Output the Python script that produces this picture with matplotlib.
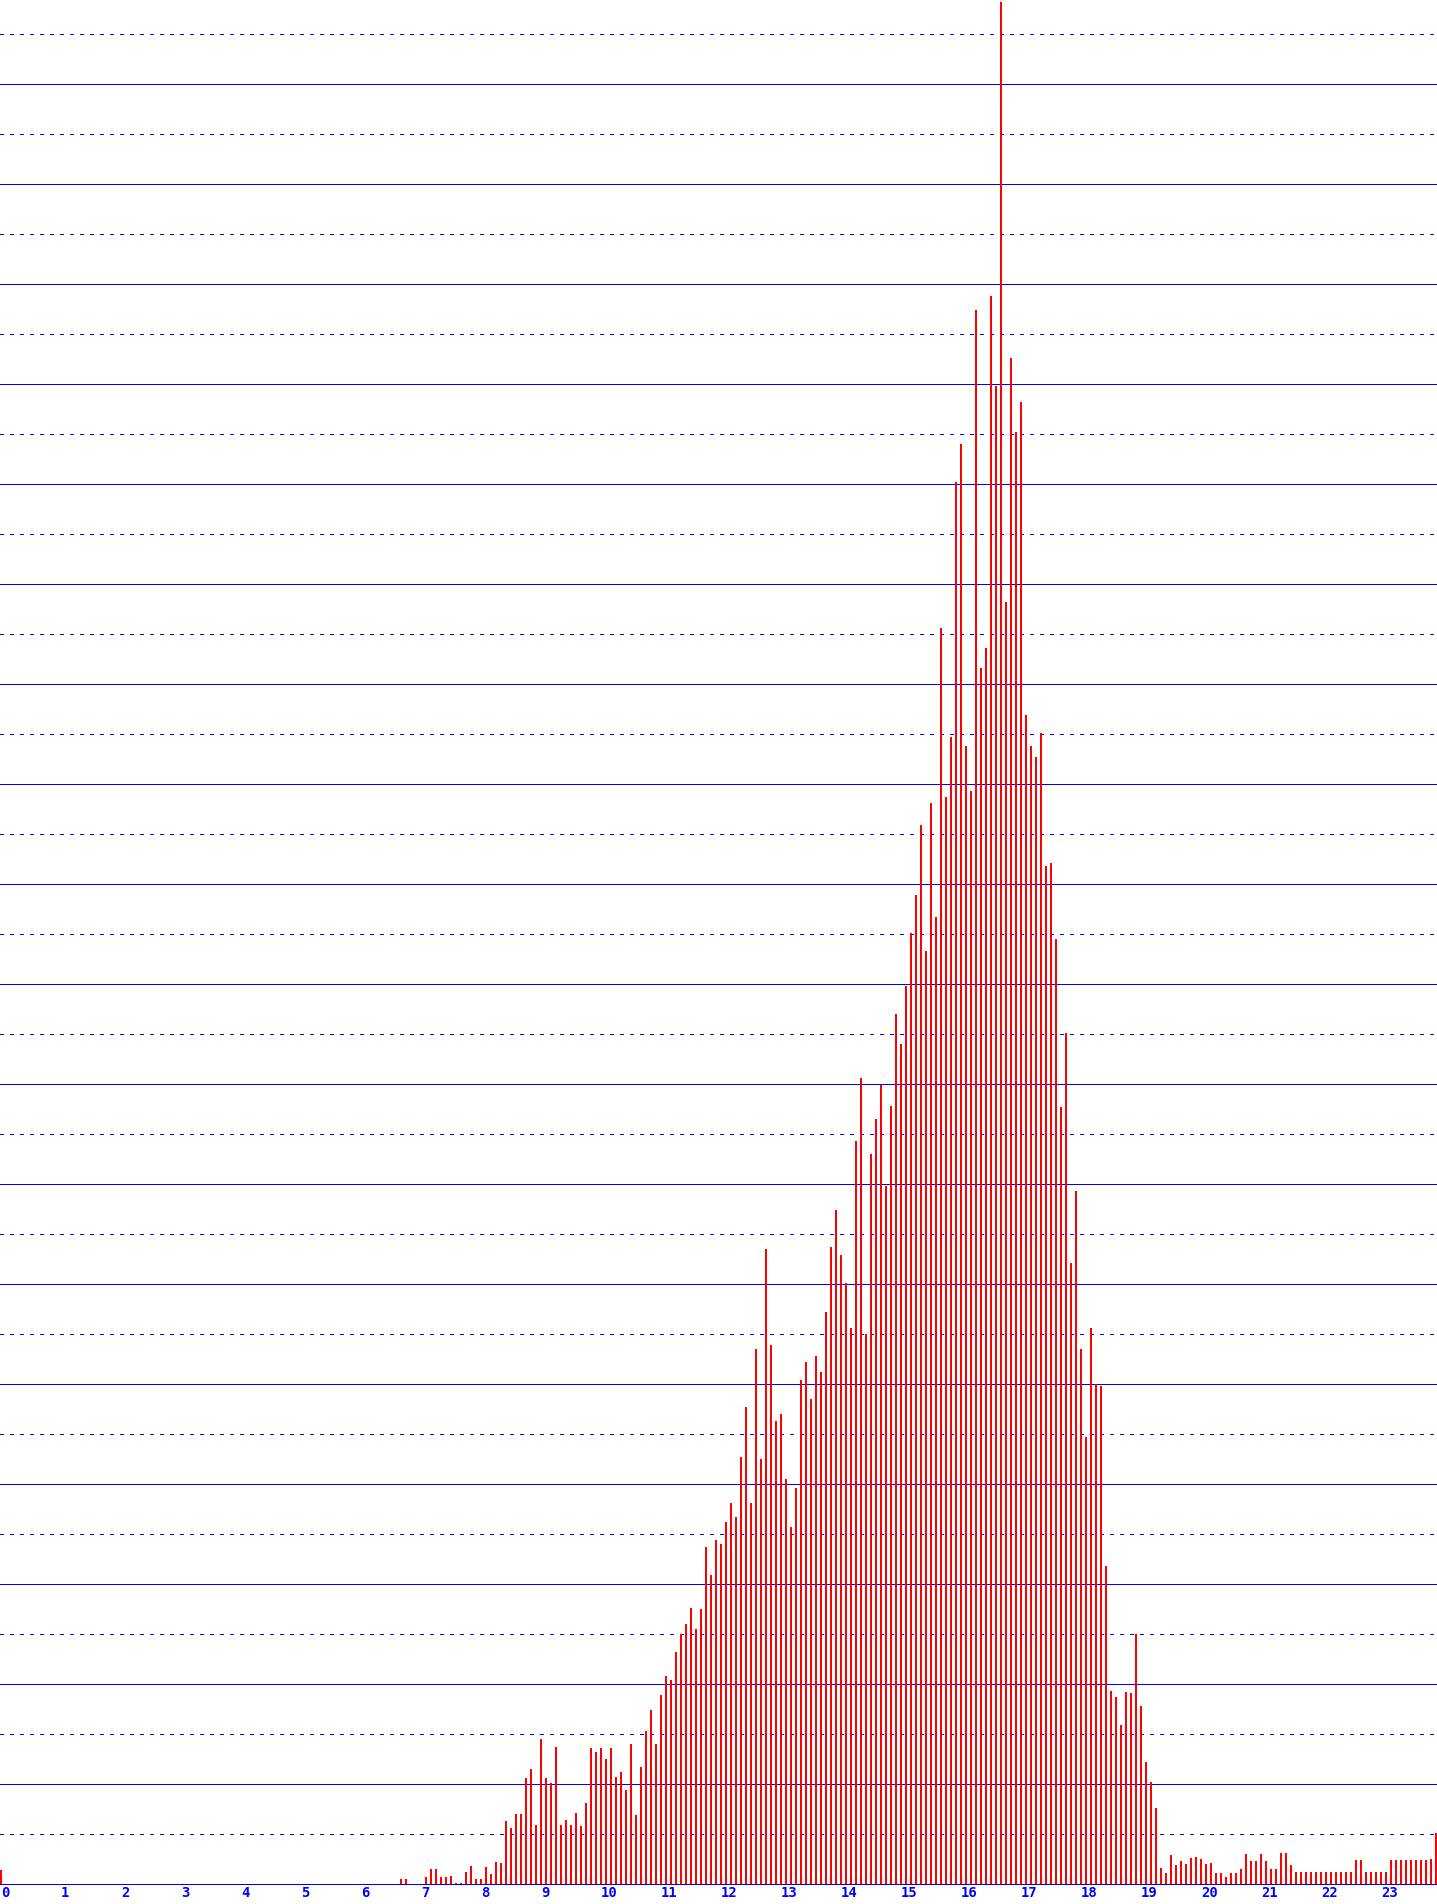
import matplotlib
matplotlib.use("Agg")
from matplotlib import pyplot as plt
import numpy as np

plt.rcParams['lines.scale_dashes'] = False

# values every 5 minutes, one list per hour (grid: solid every 100, dotted every 50)
h00 = [14, 0, 0, 0, 0, 0, 0, 0, 0, 0, 0, 0]
h01 = [0, 0, 0, 0, 0, 0, 0, 0, 0, 0, 0, 0]
h02 = [0, 0, 0, 0, 0, 0, 0, 0, 0, 0, 0, 0]
h03 = [0, 0, 0, 0, 0, 0, 0, 0, 0, 0, 0, 0]
h04 = [0, 0, 0, 0, 0, 0, 0, 0, 0, 0, 0, 0]
h05 = [0, 0, 0, 0, 0, 0, 0, 0, 0, 0, 0, 0]
h06 = [0, 0, 0, 0, 0, 0, 0, 0, 5, 5, 0, 0]
h07 = [0, 7, 15, 15, 7, 7, 8, 1, 1, 12, 18, 5]
h08 = [5, 17, 10, 22, 21, 63, 56, 70, 70, 106, 115, 59]
h09 = [145, 106, 101, 137, 59, 64, 59, 71, 58, 81, 136, 132]
h10 = [136, 125, 136, 107, 112, 94, 140, 69, 117, 153, 174, 140]
h11 = [189, 208, 204, 232, 250, 260, 276, 255, 275, 337, 309, 344]
h12 = [340, 362, 381, 367, 427, 477, 381, 535, 425, 635, 539, 463]
h13 = [470, 405, 357, 396, 504, 522, 485, 528, 512, 572, 637, 674]
h14 = [629, 601, 556, 743, 806, 550, 730, 765, 799, 698, 778, 870]
h15 = [840, 898, 951, 989, 1059, 933, 1081, 967, 1256, 1087, 1147, 1402]
h16 = [1440, 1138, 1093, 1574, 1216, 1236, 1588, 1498, 1882, 1282, 1526, 1452]
h17 = [1482, 1169, 1138, 1127, 1151, 1018, 1021, 945, 777, 851, 621, 693]
h18 = [535, 447, 556, 500, 498, 318, 193, 187, 159, 192, 191, 250]
h19 = [178, 122, 102, 76, 16, 11, 29, 19, 23, 20, 26, 27]
h20 = [25, 20, 21, 11, 11, 7, 11, 11, 15, 30, 23, 23]
h21 = [30, 23, 15, 15, 31, 31, 19, 12, 12, 12, 12, 12]
h22 = [12, 12, 12, 12, 12, 12, 12, 24, 24, 12, 12, 12]
h23 = [12, 12, 24, 24, 24, 24, 24, 24, 24, 24, 25, 51]

hours = list(range(24))
hour_labels = [str(h) for h in hours]

values = np.array(h00 + h01 + h02 + h03 + h04 + h05 + h06 + h07 + h08 + h09 + h10 + h11
                  + h12 + h13 + h14 + h15 + h16 + h17 + h18 + h19 + h20 + h21 + h22 + h23)
minutes = np.arange(len(values)) * 5

W, H = 1437, 1904
fig = plt.figure(figsize=(W / 100, H / 100), dpi=100)
ax = fig.add_axes([0, 20 / H, 1, 1 - 20 / H])
ax.set_xlim(0, W)
ax.set_ylim(0, 1884)

for y in range(0, 1900, 100):
    ax.axhline(y, color="#0000ff", lw=0.7, zorder=1, antialiased=False, clip_on=False)
for y in range(50, 1900, 100):
    ax.axhline(y, color="#0000ff", lw=0.7, ls=(0, (2.2, 5.0)), zorder=1,
               antialiased=False, clip_on=False)

ax.bar(minutes, values, width=2, align="edge", color="#ff0000", linewidth=0,
       antialiased=False, zorder=2)

for s in ax.spines.values():
    s.set_visible(False)
ax.set_yticks([])
ax.set_xticks([h * 60 + 1 for h in hours])
ax.set_xticklabels(hour_labels, color="#0000ff", fontsize=10, fontweight="bold",
                   family="DejaVu Sans Mono", ha="left")
ax.tick_params(axis="x", length=0, pad=1.5)

fig.savefig("out.png", dpi=100, facecolor="white")
